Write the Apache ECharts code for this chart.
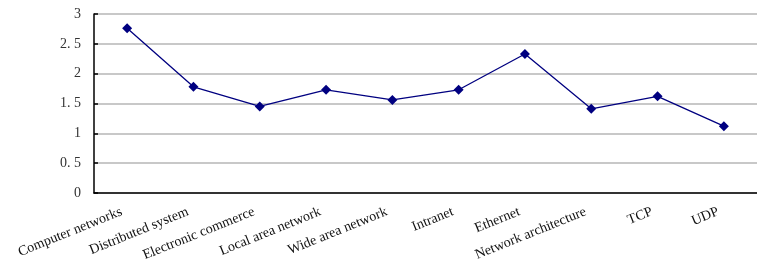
<!DOCTYPE html>
<html>
<head>
<meta charset="utf-8">
<script src="https://cdn.jsdelivr.net/npm/echarts@6/dist/echarts.min.js"></script>
<style>
  html, body { margin: 0; padding: 0; background: #fff; }
  #main { width: 757px; height: 275px; }
</style>
</head>
<body>
<div id="main"></div>
<script>
// categories and values
var categories = ['Computer networks', 'Distributed system', 'Electronic commerce',
    'Local area network', 'Wide area network', 'Intranet', 'Ethernet',
    'Network architecture', 'TCP', 'UDP'];
var values = [2.76, 1.78, 1.45, 1.73, 1.56, 1.73, 2.33, 1.41, 1.62, 1.12];
var yTickLabels = {0: '0', 0.5: '0. 5', 1: '1', 1.5: '1. 5', 2: '2', 2.5: '2. 5', 3: '3'};

var myChart = echarts.init(document.getElementById('main'));

var option = {
    animation: false,
    backgroundColor: '#ffffff',
    grid: {
        left: 94,
        top: 14,
        bottom: 82,
        width: 674
    },
    xAxis: {
        type: 'category',
        data: categories,
        boundaryGap: true,
        axisLine: { lineStyle: { color: '#000', width: 1.5 } },
        axisTick: { inside: true, length: 4, lineStyle: { color: '#000', width: 1.5 } },
        axisLabel: {
            rotate: 22,
            margin: 16,
            interval: 0,
            padding: [0, 6, 0, 0],
            color: '#111',
            fontFamily: 'Liberation Serif',
            fontSize: 14
        }
    },
    yAxis: {
        type: 'value',
        min: 0,
        max: 3,
        interval: 0.5,
        axisLine: { show: true, lineStyle: { color: '#000', width: 1.5 } },
        axisTick: { show: true, inside: true, length: 4, lineStyle: { color: '#000', width: 1.5 } },
        splitLine: { lineStyle: { color: '#c8c8c8', width: 2 } },
        axisLabel: {
            margin: 13,
            color: '#333',
            fontFamily: 'Liberation Serif',
            fontSize: 14,
            formatter: function (v) { return yTickLabels[v]; }
        }
    },
    series: [{
        type: 'line',
        data: values,
        symbol: 'diamond',
        symbolSize: 10,
        lineStyle: { color: '#000080', width: 1.3 },
        itemStyle: { color: '#000080' }
    }]
};

myChart.setOption(option);
</script>
</body>
</html>
